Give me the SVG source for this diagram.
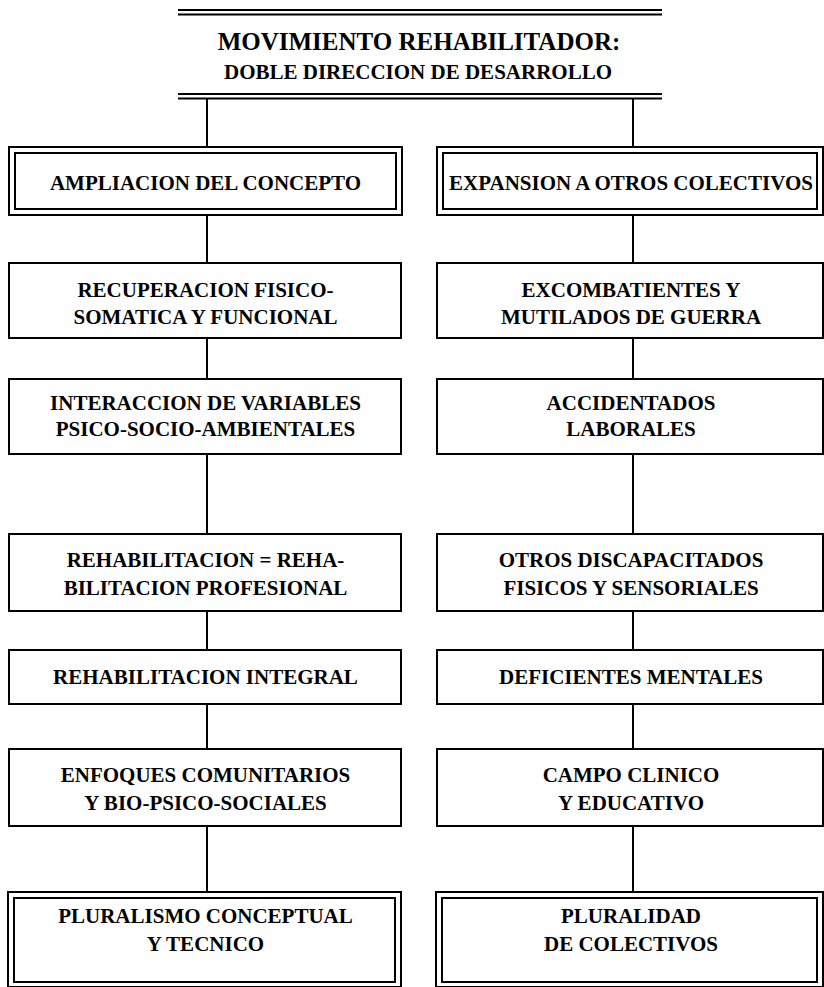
<svg xmlns="http://www.w3.org/2000/svg" width="824" height="987" viewBox="0 0 824 987">
<style>
.t{font-family:"Liberation Serif","Times New Roman",serif;font-weight:bold;fill:#000;text-anchor:middle;font-size:21px}
.t1{font-size:25px}
.b{fill:#fff;stroke:#000;stroke-width:2}
.l{stroke:#000;stroke-width:2;fill:none}
</style>
<rect width="824" height="987" fill="#fff"/>
<g id="connectors">
<line class="l" x1="207" y1="98" x2="207" y2="147"/>
<line class="l" x1="633" y1="98" x2="633" y2="147"/>
<line class="l" x1="207" y1="215" x2="207" y2="263"/>
<line class="l" x1="633" y1="215" x2="633" y2="263"/>
<line class="l" x1="207" y1="338" x2="207" y2="379"/>
<line class="l" x1="633" y1="338" x2="633" y2="379"/>
<line class="l" x1="207" y1="454" x2="207" y2="534"/>
<line class="l" x1="633" y1="454" x2="633" y2="534"/>
<line class="l" x1="207" y1="611" x2="207" y2="650"/>
<line class="l" x1="633" y1="611" x2="633" y2="650"/>
<line class="l" x1="207" y1="704" x2="207" y2="749"/>
<line class="l" x1="633" y1="704" x2="633" y2="749"/>
<line class="l" x1="207" y1="826" x2="207" y2="892"/>
<line class="l" x1="633" y1="826" x2="633" y2="892"/>
</g>
<g id="title">
<line class="l" x1="178" y1="10" x2="662" y2="10"/>
<line class="l" x1="178" y1="14.5" x2="662" y2="14.5"/>
<line class="l" x1="178" y1="94" x2="662" y2="94"/>
<line class="l" x1="178" y1="98.5" x2="662" y2="98.5"/>
<text class="t t1" x="419" y="50">MOVIMIENTO REHABILITADOR:</text>
<text class="t" x="418" y="79">DOBLE DIRECCION DE DESARROLLO</text>
</g>
<g id="ampliacion">
<rect class="b" x="9" y="147" width="393" height="68"/>
<rect class="b" x="15" y="153" width="381" height="56"/>
<text class="t" x="205.5" y="190">AMPLIACION DEL CONCEPTO</text>
</g>
<g id="expansion">
<rect class="b" x="437" y="147" width="386" height="68"/>
<rect class="b" x="443" y="153" width="374" height="56"/>
<text class="t" x="631" y="190">EXPANSION A OTROS COLECTIVOS</text>
</g>
<g id="recuperacion">
<rect class="b" x="9" y="263" width="392" height="75"/>
<text class="t" x="205.5" y="297">RECUPERACION FISICO-</text>
<text class="t" x="205.5" y="324">SOMATICA Y FUNCIONAL</text>
</g>
<g id="excombatientes">
<rect class="b" x="437" y="263" width="386" height="75"/>
<text class="t" x="631" y="297">EXCOMBATIENTES Y</text>
<text class="t" x="631" y="324">MUTILADOS DE GUERRA</text>
</g>
<g id="interaccion">
<rect class="b" x="9" y="379" width="392" height="75"/>
<text class="t" x="205.5" y="410">INTERACCION DE VARIABLES</text>
<text class="t" x="205.5" y="436">PSICO-SOCIO-AMBIENTALES</text>
</g>
<g id="accidentados">
<rect class="b" x="437" y="379" width="386" height="75"/>
<text class="t" x="631" y="410">ACCIDENTADOS</text>
<text class="t" x="631" y="436">LABORALES</text>
</g>
<g id="rehabilitacion">
<rect class="b" x="9" y="534" width="392" height="77"/>
<text class="t" x="205.5" y="567">REHABILITACION = REHA-</text>
<text class="t" x="205.5" y="595">BILITACION PROFESIONAL</text>
</g>
<g id="otros">
<rect class="b" x="437" y="534" width="386" height="77"/>
<text class="t" x="631" y="567">OTROS DISCAPACITADOS</text>
<text class="t" x="631" y="595">FISICOS Y SENSORIALES</text>
</g>
<g id="integral">
<rect class="b" x="9" y="650" width="392" height="54"/>
<text class="t" x="205.5" y="684">REHABILITACION INTEGRAL</text>
</g>
<g id="deficientes">
<rect class="b" x="437" y="650" width="386" height="54"/>
<text class="t" x="631" y="684">DEFICIENTES MENTALES</text>
</g>
<g id="enfoques">
<rect class="b" x="9" y="749" width="392" height="77"/>
<text class="t" x="205.5" y="782">ENFOQUES COMUNITARIOS</text>
<text class="t" x="205.5" y="810">Y BIO-PSICO-SOCIALES</text>
</g>
<g id="campo">
<rect class="b" x="437" y="749" width="386" height="77"/>
<text class="t" x="631" y="782">CAMPO CLINICO</text>
<text class="t" x="631" y="810">Y EDUCATIVO</text>
</g>
<g id="pluralismo">
<rect class="b" x="8" y="892" width="393" height="95"/>
<rect class="b" x="14" y="898" width="381" height="84"/>
<text class="t" x="205.5" y="923">PLURALISMO CONCEPTUAL</text>
<text class="t" x="205.5" y="951">Y TECNICO</text>
</g>
<g id="pluralidad">
<rect class="b" x="436" y="892" width="387" height="95"/>
<rect class="b" x="442" y="898" width="375" height="84"/>
<text class="t" x="631" y="923">PLURALIDAD</text>
<text class="t" x="631" y="951">DE COLECTIVOS</text>
</g>
</svg>
